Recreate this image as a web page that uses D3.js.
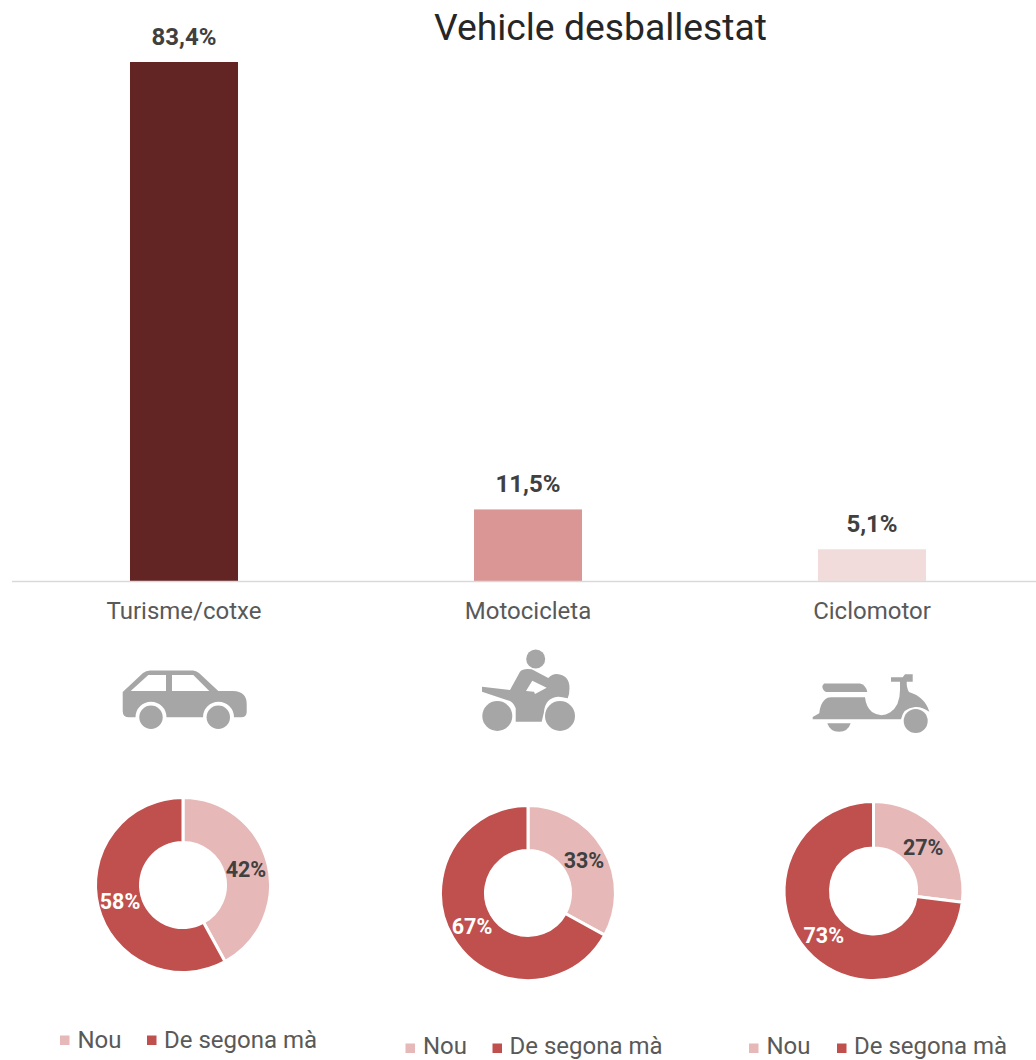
<!DOCTYPE html>
<html>
<head>
<meta charset="utf-8">
<script src="https://cdn.jsdelivr.net/npm/d3@7"></script>
<style>
html,body{margin:0;padding:0;background:#fff;overflow:hidden}
svg{display:block;font-family:Roboto,sans-serif}
</style>
</head>
<body>
<svg id="c" width="1036" height="1060"></svg>
<script>
const title = "Vehicle desballestat";
const categories = ["Turisme/cotxe", "Motocicleta", "Ciclomotor"];
const shares = [83.4, 11.5, 5.1];
const shareLabels = ["83,4%", "11,5%", "5,1%"];
const barColors = ["#632523", "#D99694", "#F2DCDB"];
const legendLabels = ["Nou", "De segona mà"];
const sliceColors = ["#E6B9B8", "#C0504D"];
const newShare = [42, 33, 27];
const usedShare = [58, 67, 73];

const svg = d3.select("#c");
const x = d3.scaleBand().domain(categories).range([12, 1044]).paddingInner(0.686).paddingOuter(0.343);
const y = d3.scaleLinear().domain([0, 83.4]).range([581, 62]);

svg.append("text").attr("x", 600.5).attr("y", 40).attr("text-anchor", "middle")
  .attr("font-size", 37.3).attr("fill", "#262626").text(title);

svg.selectAll("rect.bar").data(categories).join("rect").attr("class", "bar")
  .attr("x", d => x(d)).attr("width", x.bandwidth())
  .attr("y", (d, i) => y(shares[i])).attr("height", (d, i) => y(0) - y(shares[i]))
  .attr("fill", (d, i) => barColors[i]);

svg.selectAll("text.val").data(categories).join("text").attr("class", "val")
  .attr("x", d => x(d) + x.bandwidth() / 2).attr("y", (d, i) => y(shares[i]) - 17)
  .attr("text-anchor", "middle").attr("font-size", 24).attr("font-weight", 700)
  .attr("fill", "#404040").text((d, i) => shareLabels[i]);

const axis = svg.append("g").attr("transform", `translate(0,${y(0)})`)
  .call(d3.axisBottom(x).tickSize(0).tickPadding(21));
axis.select(".domain").attr("d", "M12,0.5H1036").attr("stroke", "#D9D9D9").attr("stroke-width", 1.5);
axis.selectAll("text").attr("font-family", "Roboto,sans-serif").attr("font-size", 24).attr("fill", "#595959");

// Icons
const iconFill = "#A6A6A6";
const car = svg.append("g").attr("fill", iconFill);
car.append("path").attr("d", "M122.7,692 L143,673 Q146,670.5 150,670.5 L193,670.5 Q196,670.5 199,673 L218.3,691 L233,691 Q246.7,691.5 246.7,704 L246.7,712 Q246.7,717.3 241,717.3 L234,717.3 A15.5,15.5 0 0 0 203,717.3 L166.5,717.3 A15.5,15.5 0 0 0 135.5,717.3 L129,717.3 Q122.7,717.3 122.7,711 Z");
car.append("path").attr("fill", "#fff").attr("d", "M130.7,691 L148.3,675 L166,675 L166,691 Z M172,675 L193.3,675 L209.3,691 L172,691 Z");
car.append("circle").attr("cx", 151).attr("cy", 717.3).attr("r", 11.7);
car.append("circle").attr("cx", 218.3).attr("cy", 717.3).attr("r", 11.7);

const moto = svg.append("g").attr("fill", iconFill);
moto.append("circle").attr("cx", 535.7).attr("cy", 659).attr("r", 9.5);
moto.append("path").attr("fill-rule", "evenodd").attr("d", "M482,686.7 L510,690 L520,671.7 Q523,668 531.7,669.3 L548.3,678 Q552,674 556.7,674 Q569.5,675 569.5,688 Q569.5,694 567.7,698.3 Q561,696.5 558,696.7 Q545,698 544,712 L541.7,721.7 L515.7,721.7 L515.7,708.3 Q513,701 506.7,700 L482,691.7 Z M526,691 L532.3,680.7 L546.7,687.7 L535,694 L534,691.7 Z");
moto.append("circle").attr("cx", 497.3).attr("cy", 716).attr("r", 15);
moto.append("circle").attr("cx", 560).attr("cy", 716).attr("r", 15);

const scoot = svg.append("g").attr("fill", iconFill);
scoot.append("path").attr("d", "M824,683.5 L860,683.5 Q866,685 867.3,692 L826,692 Q822.3,690 822.3,686 Z");
scoot.append("path").attr("d", "M812.7,719.3 L812.7,717 L819.3,713.3 Q820,704 825,699.5 Q827,697.3 831,697.3 L865,697.3 Q866,707 872,712 Q881,718 890,712.5 Q900,706 900,690 L900,681.7 L891,681.7 L891,677.3 L902.7,677.3 L905,674.3 L912.7,674.3 L912.7,681.7 L906.7,681.7 Q906.5,688 909,692 Q925,697 929.3,711.7 Q922,706.5 915,707 Q903,708 901,719.3 Z");
scoot.append("circle").attr("cx", 915.7).attr("cy", 721).attr("r", 12);
scoot.append("path").attr("d", "M827.3,723.3 L850.7,723.3 Q848,731.7 839,731.7 Q830,731.7 827.3,723.3 Z");

// Donuts
const centers = [[183, 885, 87.5, 42.5], [528, 893, 87.5, 42.5], [873.5, 891, 89.5, 43]];
const legendX = [60, 405.5, 749];
const legendY = [1040, 1046, 1046];
const legendGap = [87, 87, 88];
const pie = d3.pie().sort(null);

categories.forEach((cat, i) => {
  const [cx, cy, R, r] = centers[i];
  const arc = d3.arc().innerRadius(r).outerRadius(R);
  const g = svg.append("g").attr("transform", `translate(${cx},${cy})`);
  const slices = pie([newShare[i], usedShare[i]]);
  g.selectAll("path").data(slices).join("path")
    .attr("d", arc).attr("fill", (d, k) => sliceColors[k])
    .attr("stroke", "#fff").attr("stroke-width", 3);
  g.selectAll("text").data(slices).join("text")
    .attr("transform", d => `translate(${arc.centroid(d)})`)
    .attr("text-anchor", "middle").attr("dy", "0.36em")
    .attr("font-size", 21.5).attr("font-weight", 700)
    .attr("fill", (d, k) => k === 0 ? "#404040" : "#fff")
    .text(d => d.value + "%");

  const lg = svg.append("g").attr("transform", `translate(${legendX[i]},${legendY[i]})`);
  const offs = [0, legendGap[i]];
  legendLabels.forEach((label, k) => {
    lg.append("rect").attr("x", offs[k]).attr("y", -4.5 + (i ? 2 : 0)).attr("width", 9.5).attr("height", 9.5).attr("fill", sliceColors[k]);
    lg.append("text").attr("x", offs[k] + (k ? 17 : 17.5)).attr("y", 8).attr("font-size", 24).attr("fill", "#595959").text(label);
  });
});
</script>
</body>
</html>
